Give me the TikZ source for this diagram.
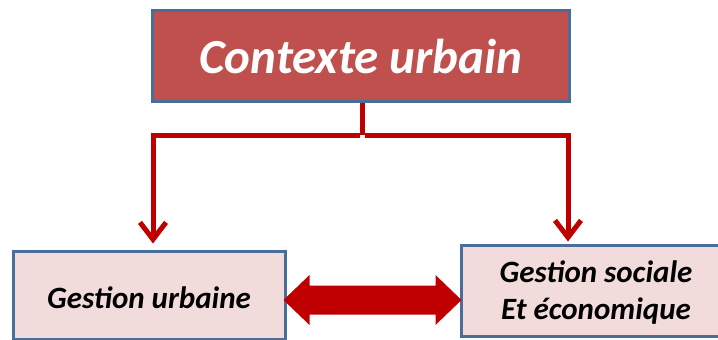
\documentclass[tikz,border=0pt]{standalone}
\usepackage{fontspec}
\setmainfont{Carlito}
\usetikzlibrary{calc,arrows.meta}
\definecolor{topfill}{HTML}{C0504D}
\definecolor{boxborder}{HTML}{4A6E9C}
\definecolor{lowfill}{HTML}{F2DCDB}
\definecolor{arrred}{HTML}{C00000}
\tikzset{
  topbox/.style={draw=boxborder, line width=3pt, fill=topfill, inner sep=0pt,
    minimum width=417pt, minimum height=91pt},
  lowbox/.style={draw=boxborder, line width=3pt, fill=lowfill, inner sep=0pt, align=center},
  link/.style={draw=arrred, line width=5pt},
  linkarr/.style={link, -{Straight Barb[length=17pt, width=26pt, line width=5pt]}},
  toptext/.style={font=\fontsize{49}{58}\selectfont\bfseries\itshape, text=white},
  lowtext/.style={font=\fontsize{31}{37}\selectfont\bfseries\itshape, align=center},
}
\begin{document}
\begin{tikzpicture}[x=1pt, y=-1pt]
\useasboundingbox (0,0) rectangle (718,340);
\clip (0,0) rectangle (718,340);
% boxes
\node[topbox] (top) at (360.5,55.5) {};
\node[toptext] (toplabel) at (361,56) {Contexte urbain};
\node[lowbox, minimum width=272pt, minimum height=88pt] (gu) at (149,295) {};
\node[lowtext] (gulabel) at (149,298) {Gestion urbaine};
\node[lowbox, minimum width=279pt, minimum height=91pt] (gs) at (600.5,290.5) {};
\node[lowtext] (gslabel) at (596,293) {Gestion sociale\\Et économique};
% tree connector
\coordinate (j) at (362,135);
\draw[link] (top.south -| j) -- (j);
\draw[linkarr] ([xshift=-2.5pt]j) -| ([xshift=4pt,yshift=6pt]gu.north);
\draw[linkarr] ([xshift=2.5pt]j) -| ([xshift=-32.5pt,yshift=2pt]gs.north);
% double block arrow
\coordinate (L) at ([xshift=-3pt,yshift=-5pt]gu.east);
\coordinate (R) at ([xshift=2pt,yshift=-9.5pt]gs.west);
\fill[arrred] (L) -- ++(26,-25) -- ++(0,10.5) -- ($(R)+(-26,-14.5)$) -- ++(0,-10.5)
  -- (R) -- ++(-26,25) -- ++(0,-10.5) -- ($(L)+(26,14.5)$) -- ++(0,10.5) -- cycle;
\end{tikzpicture}
\end{document}
